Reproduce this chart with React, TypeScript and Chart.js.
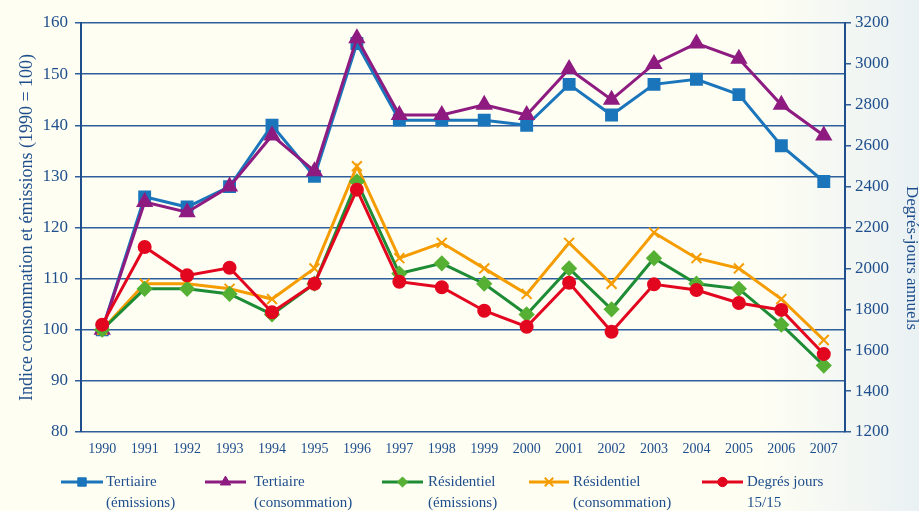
import React, { useEffect, useRef } from 'react';
import { Chart, registerables } from 'chart.js';
import { drawPoint } from 'chart.js/helpers';

Chart.register(...registerables);

const years = ['1990', '1991', '1992', '1993', '1994', '1995', '1996', '1997', '1998', '1999', '2000', '2001', '2002', '2003', '2004', '2005', '2006', '2007'];
const tertiaireEmissions = [100, 126, 124, 128, 140, 130, 156, 141, 141, 141, 140, 148, 142, 148, 149, 146, 136, 129];
const tertiaireConsommation = [100, 125, 123, 128, 138, 131, 157, 142, 142, 144, 142, 151, 145, 152, 156, 153, 144, 138];
const residentielEmissions = [100, 108, 108, 107, 103, 109, 129, 111, 113, 109, 103, 112, 104, 114, 109, 108, 101, 93];
const residentielConsommation = [100, 109, 109, 108, 106, 112, 132, 114, 117, 112, 107, 117, 109, 119, 114, 112, 106, 98];
const degresJours = [1725, 2105, 1966, 2003, 1785, 1925, 2385, 1935, 1908, 1793, 1715, 1930, 1690, 1922, 1894, 1831, 1797, 1581];

const leftMin = 80;
const leftMax = 160;
const leftStep = 10;
const rightMin = 1200;
const rightMax = 3200;
const rightStep = 200;

const leftTitle = 'Indice consommation et émissions (1990 = 100)';
const rightTitle = 'Degrés-jours annuels';

const legendLabels = [
  ['Tertiaire', '(émissions)'],
  ['Tertiaire', '(consommation)'],
  ['Résidentiel', '(émissions)'],
  ['Résidentiel', '(consommation)'],
  ['Degrés jours', '15/15'],
];

const TEXT = '#1F4E8C';
const GRID = '#2F5F9B';
const FONT = '"Liberation Serif", "Times New Roman", serif';

const BLUE = '#1B75BB';
const PURPLE = '#8E1B80';
const GREEN = '#1E8B35';
const GREEN_PT = '#55B033';
const ORANGE = '#F59C00';
const RED = '#E3061F';

const legendPos = [
  { x1: 61, x2: 103, tx: 106 },
  { x1: 205, x2: 246, tx: 254 },
  { x1: 382, x2: 423, tx: 428 },
  { x1: 529, x2: 569, tx: 573 },
  { x1: 702, x2: 743, tx: 747 },
];

const bgPlugin = {
  id: 'bg',
  beforeDraw(chart: any) {
    const { ctx, width, height } = chart;
    ctx.save();
    ctx.fillStyle = '#FEFEF3';
    ctx.fillRect(0, 0, width, height);
    const g = ctx.createLinearGradient(760, 0, width, 0);
    g.addColorStop(0, 'rgba(234,241,243,0)');
    g.addColorStop(1, 'rgba(234,241,243,1)');
    ctx.fillStyle = g;
    ctx.fillRect(760, 0, width - 760, height);
    ctx.restore();
  },
};

const legendPlugin = {
  id: 'customLegend',
  afterDraw(chart: any) {
    const { ctx } = chart;
    ctx.save();
    ctx.fillStyle = TEXT;
    ctx.font = '17px ' + FONT;
    ctx.textAlign = 'center';
    ctx.textBaseline = 'middle';
    ctx.translate(911, 258);
    ctx.rotate(Math.PI / 2);
    ctx.fillText(rightTitle, 0, 0);
    ctx.restore();

    ctx.save();
    const y1 = 482;
    const y2 = 503;
    chart.data.datasets.forEach((ds: any, i: number) => {
      const p = legendPos[i];
      ctx.strokeStyle = ds.borderColor;
      ctx.lineWidth = 3;
      ctx.beginPath();
      ctx.moveTo(p.x1, y1);
      ctx.lineTo(p.x2, y1);
      ctx.stroke();
      ctx.fillStyle = ds.pointBackgroundColor;
      ctx.strokeStyle = ds.pointBorderColor;
      ctx.lineWidth = ds.pointStyle === 'crossRot' ? 2 : 1;
      drawPoint(ctx, { pointStyle: ds.pointStyle, radius: ds.pointRadius * 0.85, borderWidth: 1, rotation: 0 } as any, (p.x1 + p.x2) / 2, y1);
      ctx.fillStyle = TEXT;
      ctx.font = '15px ' + FONT;
      ctx.textAlign = 'left';
      ctx.textBaseline = 'middle';
      ctx.fillText(legendLabels[i][0], p.tx, y1);
      ctx.fillText(legendLabels[i][1], p.tx, y2);
    });
    ctx.restore();
  },
};

export default function App() {
  const ref = useRef<HTMLCanvasElement | null>(null);
  useEffect(() => {
    document.body.style.margin = '0';
    if (!ref.current) return;
    const chart = new Chart(ref.current, {
      type: 'line',
      data: {
        labels: years,
        datasets: [
          {
            label: 'Tertiaire (émissions)',
            data: tertiaireEmissions,
            yAxisID: 'y',
            borderColor: BLUE,
            backgroundColor: BLUE,
            pointBackgroundColor: BLUE,
            pointBorderColor: BLUE,
            pointStyle: 'rect',
            pointRadius: 7,
            borderWidth: 3,
            order: 4,
          },
          {
            label: 'Tertiaire (consommation)',
            data: tertiaireConsommation,
            yAxisID: 'y',
            borderColor: PURPLE,
            backgroundColor: PURPLE,
            pointBackgroundColor: PURPLE,
            pointBorderColor: PURPLE,
            pointStyle: 'triangle',
            pointRadius: 7,
            borderWidth: 3,
            order: 3,
          },
          {
            label: 'Résidentiel (émissions)',
            data: residentielEmissions,
            yAxisID: 'y',
            borderColor: GREEN,
            backgroundColor: GREEN_PT,
            pointBackgroundColor: GREEN_PT,
            pointBorderColor: GREEN_PT,
            pointStyle: 'rectRot',
            pointRadius: 6,
            borderWidth: 3,
            order: 1,
          },
          {
            label: 'Résidentiel (consommation)',
            data: residentielConsommation,
            yAxisID: 'y',
            borderColor: ORANGE,
            backgroundColor: ORANGE,
            pointBackgroundColor: ORANGE,
            pointBorderColor: ORANGE,
            pointStyle: 'crossRot',
            pointRadius: 7,
            pointBorderWidth: 2,
            borderWidth: 3,
            order: 2,
          },
          {
            label: 'Degrés jours 15/15',
            data: degresJours,
            yAxisID: 'y1',
            borderColor: RED,
            backgroundColor: RED,
            pointBackgroundColor: RED,
            pointBorderColor: RED,
            pointStyle: 'circle',
            pointRadius: 5.5,
            borderWidth: 3,
            order: 0,
          },
        ],
      },
      options: {
        animation: false,
        responsive: false,
        maintainAspectRatio: false,
        layout: { padding: { top: 23, left: 0, right: 0, bottom: 0 } },
        plugins: {
          legend: { display: false },
          tooltip: { enabled: false },
        },
        elements: { line: { tension: 0 } },
        scales: {
          x: {
            type: 'category',
            offset: true,
            grid: { display: false, drawTicks: false },
            border: { display: false },
            ticks: {
              color: TEXT,
              font: { family: FONT, size: 14 },
              padding: 9,
              maxRotation: 0,
              autoSkip: false,
            },
            afterFit: (s: any) => { s.height = 79; },
          },
          y: {
            position: 'left',
            min: leftMin,
            max: leftMax,
            ticks: {
              stepSize: leftStep,
              color: TEXT,
              font: { family: FONT, size: 17 },
              padding: 7,
              callback: (v: any) => String(v),
            },
            grid: { color: GRID, lineWidth: 1.5, tickLength: 6, tickColor: GRID },
            border: { color: TEXT, width: 2 },
            title: {
              display: true,
              text: leftTitle,
              color: TEXT,
              font: { family: FONT, size: 18 },
              padding: { top: 16, bottom: 0 },
            },
            afterFit: (s: any) => { s.width = 81; },
          },
          y1: {
            position: 'right',
            min: rightMin,
            max: rightMax,
            ticks: {
              stepSize: rightStep,
              color: TEXT,
              font: { family: FONT, size: 17 },
              padding: 4,
              callback: (v: any) => String(v),
            },
            grid: { drawOnChartArea: false, tickLength: 6, tickColor: GRID, lineWidth: 1.5 },
            border: { color: TEXT, width: 2 },
            afterFit: (s: any) => { s.width = 74; },
          },
        },
      },
      plugins: [bgPlugin, legendPlugin],
    } as any);
    return () => chart.destroy();
  }, []);
  return (
    <div style={{ width: 919, height: 511 }}>
      <canvas ref={ref} width={919} height={511} style={{ display: 'block', width: 919, height: 511 }} />
    </div>
  );
}
